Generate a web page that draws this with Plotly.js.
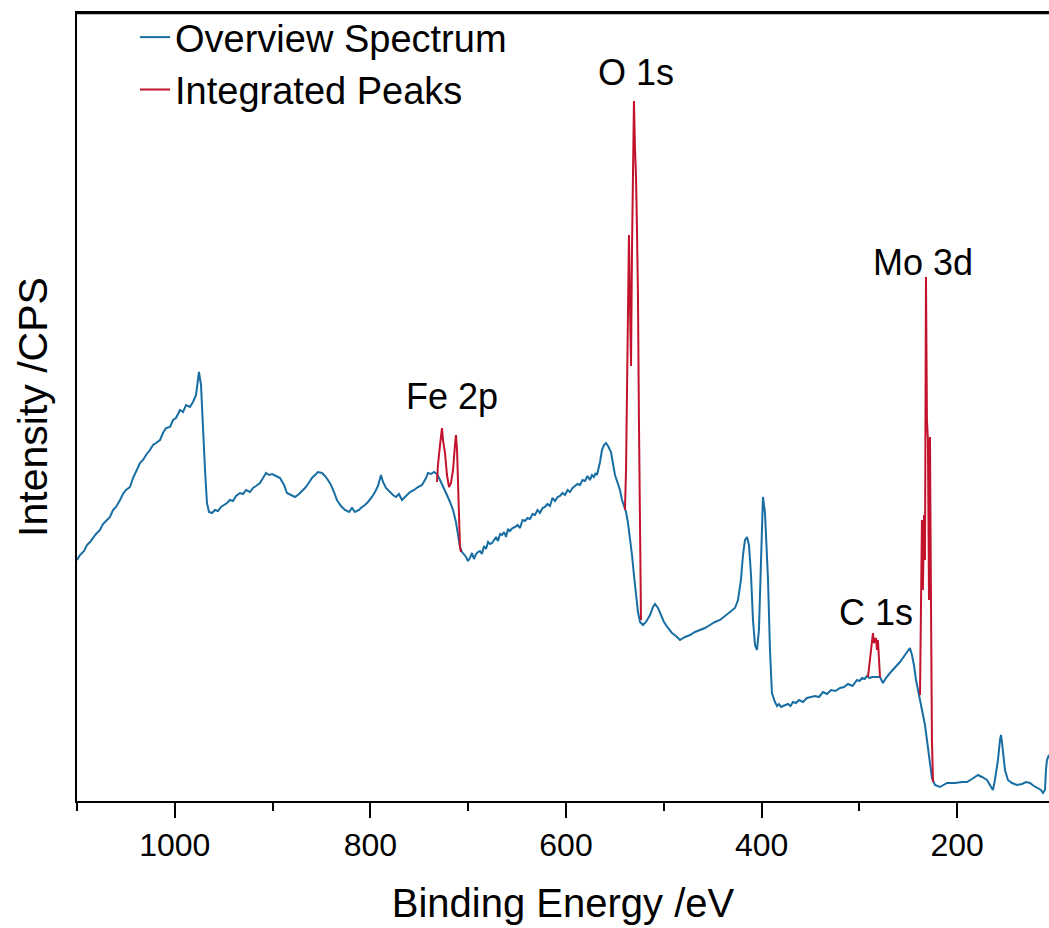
<!DOCTYPE html>
<html>
<head>
<meta charset="utf-8">
<script src="https://cdn.plot.ly/plotly-3.0.1.min.js"></script>
<style>html,body{margin:0;padding:0;background:#fff;}#chart{width:1049px;height:928px;}</style>
</head>
<body>
<div id="chart"></div>
<script>
// Overview spectrum: binding energy (eV) and intensity (CPS), in segments
const survE1 = [
1100.0,1096.9,1092.8,1089.8,1086.7,1083.6,1080.6,1076.5,1073.4,1070.3,
1066.3,1063.2,1060.1,1056.0,1053.0,1049.9,1045.8,1042.7,1039.7,1035.6,
1032.5,1029.4,1025.4,1022.3,1019.2,1015.1,1012.1,1009.0,1004.9,1001.8,
998.8,994.7,991.6,988.5,984.5,981.4,978.3,976.3,975.3,973.2,
971.2,969.1,967.1,965.0,962.0,958.9,955.8,952.8,949.7,946.6,
943.6,940.5,937.4,933.3,930.3,927.2,923.1,920.0,917.0,912.9,
909.8,906.7,903.7,900.6,896.5,892.4,888.3,885.3,881.2,877.1,
873.0,869.9,866.9,863.8,859.7,856.6,853.6,849.5,846.4,843.4,
840.3,837.2,834.2,830.1,826.0,821.9,818.8,815.7,811.7,808.6,
805.5,802.5,798.4,795.3,792.2,789.2,787.1,784.0,780.0,776.9,
773.8,770.8,767.7,763.6,759.5,755.4,751.3,747.2,743.1,741.1,
738.0,735.0,731.9,728.8,724.7,721.7,718.6,715.5,712.5,710.4,
708.4,706.3
];
const survI1 = [
24100,24600,25000,25600,25900,26300,26700,27100,27700,28000,
28400,29100,29400,30100,30700,31100,31400,32300,32900,33800,
34100,34600,35100,35600,35800,36100,36800,37300,37400,38100,
38300,39100,38900,39600,39400,39900,40600,42300,42900,41600,
37100,33100,29800,28900,28800,29100,29000,29400,29600,29800,
30100,30000,30500,30800,30700,31100,30900,31300,31500,31800,
32300,32800,32600,32700,32500,32300,31600,30800,30600,30400,
30700,31000,31300,31700,32300,32600,32900,32800,32500,32100,
31600,30900,30100,29500,29100,28900,29300,28900,29100,29400,
29600,29900,30400,30900,31500,32600,31900,31300,30900,30600,
30400,30700,30100,30500,30900,31100,31400,31600,32300,32800,
32700,32900,32700,32100,31300,30600,29900,29100,27900,26400,
25400,24900
];
const survE2 = [
702.2,700.2,698.2,696.1,694.1,692.0,690.0,687.9,685.9,683.8,
681.8,679.7,677.7,675.6,673.6,671.5,669.5,667.4,665.4,663.3,
661.3,659.3,657.3,654.7,652.1,649.5,647.0,644.4,641.9,639.3,
636.8,634.2,631.7,629.1,626.6,624.0,621.5,618.9,616.4,613.8,
611.2,608.6,606.1,603.5,601.0,598.4,595.9,593.3,590.8,588.2,
585.7,583.1,580.6,578.0,575.5,573.4,571.4,569.8,568.3
];
const survI2 = [
24400,24000,24300,24800,24200,24700,24900,25000,24700,25500,
25200,25900,25700,25800,26100,26400,26000,26700,26600,26900,
26400,27200,27000,27300,27400,27600,27300,28100,28000,28300,
28200,28700,28600,29100,28800,29300,29400,29700,29500,30300,
30000,30400,30500,30800,30600,31100,30900,31300,31500,31700,
31600,32100,32000,32500,32100,32600,32400,32800,32600
];
const survE3 = [
565.2,563.2,561.1,559.1,557.0,554.0,551.9,549.9,
546.8,544.8,542.7,540.7,538.6,536.6,534.6,532.5,530.5,528.4,
526.4,524.3,521.3,518.2,514.1,511.0,509.0,505.9,502.9,499.8,
495.7,491.6,487.5,483.4,478.3,473.2,468.1,463.0,457.9,452.8,
447.6,442.5,437.4,432.3,427.2,424.1,421.1,419.0,417.0,414.9,
412.9,410.8,408.8,406.7,404.7,402.7,400.6,399.6,398.6,396.5,
394.5,393.4,391.4,389.4
];
const survI3 = [
33900,35100,35600,35800,35500,34900,33600,32600,
31700,31100,30100,29400,28900,27800,26300,24600,22600,20600,
18900,17900,17600,17900,18600,19400,19700,19300,18600,17900,
17300,16800,16500,16100,16400,16600,16900,17100,17300,17600,
17900,18100,18500,18900,19300,20100,22100,24600,26100,26400,
25600,22600,18100,15600,15100,17100,24100,29100,30400,28800,
24100,22100,15100,10800
];
const survE4 = [
386.3,384.2,382.2,380.1,378.1,375.5,373.0,370.4,367.9,364.8,
361.8,357.7,353.6,349.5,345.4,341.3,337.2,333.1,329.0,324.4,
319.8,315.7,311.7,307.0,302.4,299.8,297.3,294.7,292.2,289.6
];
const survI4 = [
9900,9500,9700,9400,9500,9600,9700,9500,9900,9800,
10100,9900,10300,10400,10500,10400,10900,10700,11100,11000,
11300,11400,11700,11500,12100,12000,12300,12200,12500,12300
];
const survE5 = [
287.1,
282.0,278.9,275.9,272.8,268.7,263.6,258.5,253.4,250.3,248.3,
246.2,244.2,242.1,240.1,237.0,235.0,232.9,230.9,228.8,227.8,
225.8,222.7,217.6,210.4,202.2,195.1,190.0,184.9,178.7,174.6,
169.5,166.5,163.4,161.4,158.3,156.2,155.2,154.2,153.2,151.1,
148.1,144.0,138.9,133.7,129.7,125.6,121.5,117.4,114.3,112.3,
110.2,109.2,108.2,106.1
];
const survI5 = [
12400,
12400,12400,11800,12300,12800,13300,13900,14600,15100,15300,
14600,13600,12100,11100,9600,8800,7600,6100,4600,3400,
2300,1600,1400,1800,1800,1900,1900,2200,2600,2400,
2100,1600,1100,2100,4100,6100,6600,5900,4800,3100,
2100,1800,1600,1700,1900,1800,1500,1300,1100,800,
1100,3100,4100,4600
];

// Integrated peaks (same units), one array pair per region
const feE = [731.9,730.9,728.8,726.8,725.8,723.7,721.7,719.6,717.6,715.5,713.5,712.5,711.4,710.4,709.4,708.4,707.4];
const feI = [31900,33600,35600,37300,36100,34800,32600,31400,31800,33100,35600,36600,35100,31800,28100,25400,24900];
const oE  = [539.7,538.6,537.6,536.6,535.6,534.6,533.5,532.5,531.5,530.5,529.4,528.4,527.4,526.4,525.4,524.3,523.3];
const oI  = [29100,33100,41000,50100,56600,50100,43500,55100,64100,70000,65100,62500,57100,50700,38100,26100,18100];
const cE  = [291.2,289.2,287.1,286.1,285.1,284.0,283.0,282.0,281.0,279.9,278.9];
const cI  = [12400,14100,16100,16800,15800,16100,16300,15100,16100,14100,12400];
const moE = [238.0,237.0,236.0,235.0,233.9,232.9,231.9,230.9,229.9,228.8,227.8,226.8,225.8,224.7];
const moI = [10600,20100,28100,21100,28600,24100,52400,38100,36100,20100,36400,20300,6100,1900];

const peakLabels = [
  {text: 'O 1s',  e: 528.4, i: 72900},
  {text: 'Fe 2p', e: 716.6, i: 40500},
  {text: 'Mo 3d', e: 235.0, i: 53900},
  {text: 'C 1s',  e: 283.0, i: 18900}
];

const xTicks = [1000, 800, 600, 400, 200];

const blueE = [].concat(survE1, survE2, survE3, survE4, survE5);
const blueI = [].concat(survI1, survI2, survI3, survI4, survI5);
const redE = [].concat(feE, [null], oE, [null], cE, [null], moE);
const redI = [].concat(feI, [null], oI, [null], cI, [null], moI);

const FONT = 'Liberation Sans, Arial, Helvetica, sans-serif';
const BLUE = '#186ea3';
const RED = '#c3122b';

const traces = [
  {x: blueE, y: blueI, type: 'scatter', mode: 'lines', name: 'Overview Spectrum',
   line: {color: BLUE, width: 2}},
  {x: redE, y: redI, type: 'scatter', mode: 'lines', name: 'Integrated Peaks',
   connectgaps: false, line: {color: RED, width: 2}}
];

const layout = {
  width: 1049, height: 928,
  margin: {l: 77, r: 0, t: 13, b: 127},
  paper_bgcolor: '#fff', plot_bgcolor: '#fff',
  font: {family: FONT, color: '#000'},
  showlegend: true,
  legend: {x: 0.0597, xanchor: 'left', y: 1.009, yanchor: 'top',
           bgcolor: 'rgba(0,0,0,0)', borderwidth: 0, tracegroupgap: 0,
           font: {family: FONT, size: 38, color: '#000'}},
  xaxis: {
    range: [1100, 106.1], showgrid: false, zeroline: false,
    showline: true, linecolor: '#000', linewidth: 2, mirror: true,
    ticks: 'outside', ticklen: 15, tickwidth: 2, tickcolor: '#000',
    tickvals: xTicks, ticktext: xTicks.map(String),
    tickfont: {family: FONT, size: 32, color: '#000'},
    minor: {dtick: 100, tick0: 0, ticks: 'outside', ticklen: 8, tickwidth: 2, tickcolor: '#000', showgrid: false},
    title: {text: 'Binding Energy /eV', font: {family: FONT, size: 40, color: '#000'}, standoff: 27}
  },
  yaxis: {
    range: [0, 78800], showgrid: false, zeroline: false,
    showline: true, linecolor: '#000', linewidth: 2, mirror: false,
    ticks: '', showticklabels: false,
    title: {text: 'Intensity /CPS', font: {family: FONT, size: 41, color: '#000'}, standoff: 15}
  },
  shapes: [
    {type: 'line', xref: 'paper', yref: 'paper', x0: 0, x1: 1, y0: 1, y1: 1,
     line: {color: '#000', width: 2.5}}
  ],
  annotations: peakLabels.map(p => ({
    x: p.e, y: p.i, xref: 'x', yref: 'y', text: p.text, showarrow: false,
    xanchor: 'center', yanchor: 'middle',
    font: {family: FONT, size: 36, color: '#000'}
  }))
};

Plotly.newPlot('chart', traces, layout, {displayModeBar: false, staticPlot: true});
</script>
</body>
</html>
